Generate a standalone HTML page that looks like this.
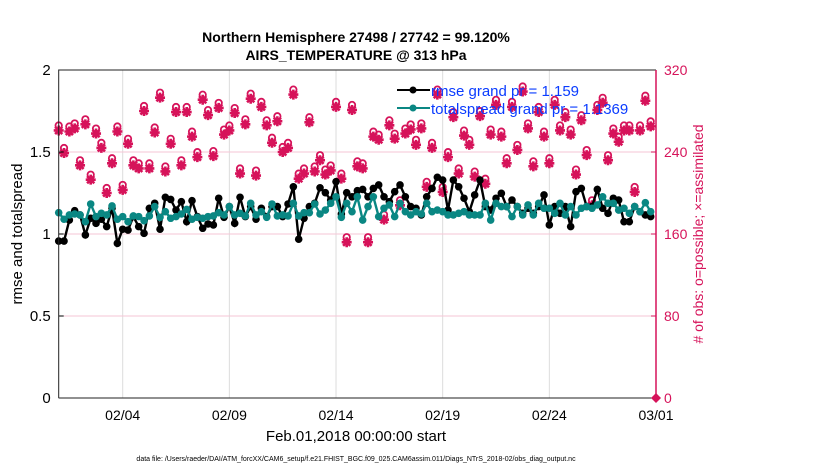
<!DOCTYPE html>
<html><head><meta charset="utf-8"><style>
body{margin:0;background:#fff;}
svg{display:block;font-family:"Liberation Sans",sans-serif;}
</style></head><body>
<svg id="chart" width="830" height="470" viewBox="0 0 830 470" xmlns="http://www.w3.org/2000/svg">
<rect width="830" height="470" fill="#fff"/>
<g id="grid"></g>
<g id="marks"></g>
<g id="axes"></g>
<text x="356" y="42" text-anchor="middle" font-size="14" font-weight="bold">Northern Hemisphere 27498 / 27742 = 99.120%</text>
<text x="356" y="60" text-anchor="middle" font-size="14" font-weight="bold">AIRS_TEMPERATURE @ 313 hPa</text>
<text x="356" y="441" text-anchor="middle" font-size="15">Feb.01,2018 00:00:00 start</text>
<text transform="translate(22,234) rotate(-90)" text-anchor="middle" font-size="15">rmse and totalspread</text>
<text transform="translate(703,234) rotate(-90)" text-anchor="middle" font-size="14" fill="#d6135a"># of obs: o=possible; ×=assimilated</text>
<text x="356" y="461" text-anchor="middle" font-size="7">data file: /Users/raeder/DAI/ATM_forcXX/CAM6_setup/f.e21.FHIST_BGC.f09_025.CAM6assim.011/Diags_NTrS_2018-02/obs_diag_output.nc</text>
<g>
<line x1="397" y1="90" x2="430" y2="90" stroke="#000" stroke-width="2"/>
<circle cx="413" cy="90" r="3.5" fill="#000"/>
<text x="431" y="96" font-size="15" fill="#0a3cff">rmse grand pr = 1.159</text>
<line x1="397" y1="108" x2="430" y2="108" stroke="#0a8783" stroke-width="2"/>
<circle cx="413" cy="108" r="3.5" fill="#0a8783"/>
<text x="431" y="114" font-size="15" fill="#0a3cff">totalspread grand pr = 1.1369</text>
</g>
</svg>
<script>
const rmse=[0.957,0.957,1.085,1.142,1.116,0.994,1.096,1.065,1.090,1.045,1.157,0.943,1.029,1.024,1.106,1.045,1.004,1.157,1.187,1.029,1.224,1.211,1.146,1.197,1.075,1.203,1.106,1.035,1.061,1.055,1.218,1.102,1.167,1.065,1.224,1.106,1.167,1.090,1.157,1.106,1.167,1.167,1.106,1.183,1.288,0.968,1.096,1.167,1.187,1.282,1.252,1.207,1.319,1.122,1.252,1.227,1.264,
1.272,1.227,1.278,1.299,1.227,1.197,1.258,1.299,1.227,1.167,1.157,1.116,1.227,1.278,1.346,1.329,1.146,1.329,1.288,1.218,1.136,1.238,1.329,1.167,1.146,1.218,1.248,1.167,1.207,1.167,1.126,1.157,1.126,1.167,1.238,1.055,1.167,1.126,1.167,1.045,1.258,1.278,1.167,1.167,1.272,1.157,1.126,1.218,1.207,1.075,1.075,1.167,1.136,1.116,1.106];
const spread=[1.130,1.090,1.116,1.122,1.116,1.075,1.183,1.106,1.126,1.116,1.171,1.090,1.106,1.075,1.110,1.106,1.081,1.110,1.167,1.102,1.136,1.096,1.106,1.122,1.150,1.090,1.102,1.096,1.106,1.110,1.130,1.116,1.167,1.116,1.126,1.110,1.187,1.116,1.136,1.102,1.183,1.110,1.116,1.110,1.187,1.110,1.130,1.130,1.183,1.122,1.146,1.187,1.227,1.102,1.187,1.136,1.227,
1.085,1.167,1.227,1.106,1.157,1.177,1.106,1.187,1.136,1.116,1.136,1.122,1.187,1.136,1.146,1.136,1.116,1.116,1.126,1.136,1.116,1.116,1.116,1.187,1.085,1.187,1.167,1.167,1.106,1.167,1.116,1.177,1.116,1.187,1.157,1.157,1.126,1.187,1.116,1.167,1.116,1.157,1.167,1.157,1.177,1.227,1.187,1.187,1.146,1.157,1.126,1.167,1.136,1.191,1.136];
const obsCount=[261,239,260,263,227,267,213,258,244,200,229,260,203,248,227,224,280,224,259,293,221,248,279,227,279,255,235,291,276,236,283,257,261,278,219,267,292,217,284,266,249,270,240,244,296,214,219,269,221,232,218,222,284,214,152,281,226,
224,152,255,252,174,266,253,188,258,262,247,263,206,244,296,201,235,274,219,256,247,216,275,209,257,286,255,229,284,242,299,263,226,279,255,229,286,261,274,257,218,271,237,188,281,288,232,258,250,261,261,201,261,290,265];
const leftTicks=[0,0.5,1,1.5,2];
const rightTicks=[0,80,160,240,320];
const dateTicks=[3,8,13,18,23,28];
const dateLabels=["02/04","02/09","02/14","02/19","02/24","03/01"];

const X0=58.7,X1=656,Y0=398,Y1=70,NS="http://www.w3.org/2000/svg";
const xDay=d=>X0+(X1-X0)*d/28;
const xIdx=i=>xDay(i*0.25);
const yL=v=>Y0-(Y0-Y1)*v/2;
const yR=v=>Y0-(Y0-Y1)*v/320;
function mk(tag,attrs,parent){const e=document.createElementNS(NS,tag);for(const k in attrs)e.setAttribute(k,attrs[k]);parent.appendChild(e);return e;}
const grid=document.getElementById('grid'),marks=document.getElementById('marks'),axes=document.getElementById('axes');
const MAG="#d6135a",TEAL="#0a8783";

dateTicks.forEach((d,i)=>{
  const g=mk('line',{x1:xDay(d),x2:xDay(d),y1:Y1,y2:Y0,stroke:"#dcdcdc","stroke-width":1},grid);
  
  
  const t=mk('text',{x:xDay(d),y:420,"text-anchor":"middle","font-size":14},axes);
  t.textContent=dateLabels[i];
  
  
});
rightTicks.forEach(v=>{
  if(v>0&&v<320){const g=mk('line',{x1:X0,x2:X1,y1:yR(v),y2:yR(v),stroke:"#f5c6d6","stroke-width":1},grid);
  
  }
  const tk=mk('line',{x1:X1-5,x2:X1,y1:yR(v),y2:yR(v),stroke:MAG,"stroke-width":1},axes);
  
  
  const t=mk('text',{x:X1+8,y:yR(v)+5,"font-size":14,fill:MAG},axes);
  t.textContent=v;
  
  
});
leftTicks.forEach(v=>{
  const tk=mk('line',{x1:X0,x2:X0+5,y1:yL(v),y2:yL(v),stroke:"#000","stroke-width":1},axes);
  
  
  const t=mk('text',{x:X0-8,y:yL(v)+5,"text-anchor":"end","font-size":15},axes);
  t.textContent=v;
  
  
});
const fr=mk('path',{d:`M${X0},${Y0}V${Y1}H${X1}`,fill:"none",stroke:"#222","stroke-width":1},axes);


const bx=mk('line',{x1:X0,x2:X1,y1:Y0,y2:Y0,stroke:"#222","stroke-width":1},axes);


const ra=mk('line',{x1:X1,x2:X1,y1:Y1,y2:Y0,stroke:MAG,"stroke-width":1.5},axes);


const dm=mk('path',{d:`M${X1},${Y0-5}L${X1+5},${Y0}L${X1},${Y0+5}L${X1-5},${Y0}Z`,fill:MAG},axes);



obsCount.forEach((v,i)=>{
  const x=xIdx(i),y=yR(v);
  const g=mk('g',{},marks);
  
  
  mk('path',{d:`M${x-5},${y}H${x+5}M${x},${y-5}V${y+5}M${x-3.6},${y-3.6}L${x+3.6},${y+3.6}M${x-3.6},${y+3.6}L${x+3.6},${y-3.6}`,stroke:MAG,"stroke-width":2.6},g);
  mk('circle',{cx:x,cy:y-5,r:3.2,fill:"none",stroke:MAG,"stroke-width":1.8},g);
});
function series(arr,color,name){
  const p=mk('polyline',{points:arr.map((v,i)=>xIdx(i)+","+yL(v)).join(" "),fill:"none",stroke:color,"stroke-width":2.4},marks);
  
  
  arr.forEach((v,i)=>{
    const c=mk('circle',{cx:xIdx(i),cy:yL(v),r:3.8,fill:color},marks);
    
    
  });
}
series(rmse,"#000","rmse");
series(spread,TEAL,"totalspread");
</script>
</body></html>
